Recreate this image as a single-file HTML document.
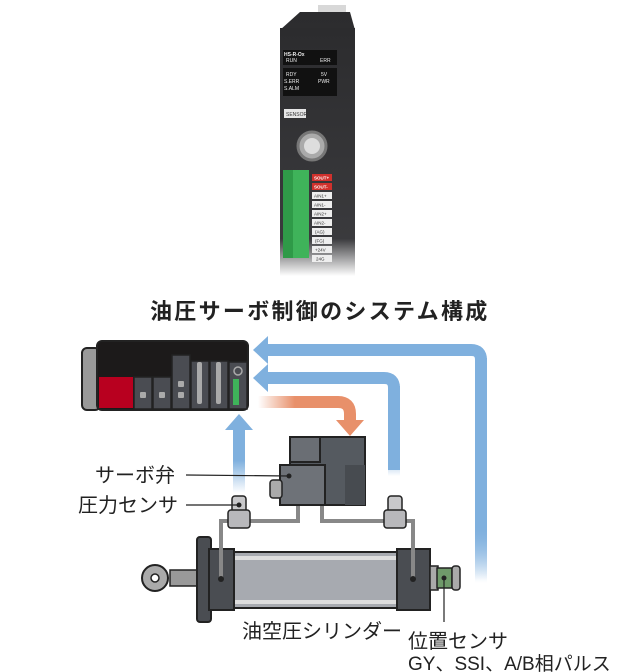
<!DOCTYPE html>
<html><head><meta charset="utf-8"><style>
html,body{margin:0;padding:0;background:#fff;}
svg{display:block}
text{font-family:"Liberation Sans","Noto Sans CJK JP",sans-serif;}
</style></head><body>
<svg width="640" height="672" viewBox="0 0 640 672" xmlns="http://www.w3.org/2000/svg">
<defs>
<linearGradient id="fadeV" x1="0" y1="0" x2="0" y2="1"><stop offset="0" stop-color="#7fb0de"/><stop offset="0.75" stop-color="#7fb0de"/><stop offset="1" stop-color="#7fb0de" stop-opacity="0"/></linearGradient>
<linearGradient id="fadeV2" x1="0" y1="1" x2="0" y2="0"><stop offset="0" stop-color="#7fb0de" stop-opacity="0"/><stop offset="0.5" stop-color="#7fb0de"/><stop offset="1" stop-color="#7fb0de"/></linearGradient>
<linearGradient id="fadeO" x1="0" y1="0" x2="1" y2="0"><stop offset="0" stop-color="#e8906a" stop-opacity="0"/><stop offset="0.4" stop-color="#e8906a"/><stop offset="1" stop-color="#e8906a"/></linearGradient>
<linearGradient id="modg" x1="0" y1="0" x2="0" y2="1"><stop offset="0" stop-color="#2c2c2e"/><stop offset="0.85" stop-color="#3a3a3d"/><stop offset="1" stop-color="#fff"/></linearGradient>
</defs>

<!-- top module -->
<rect x="318" y="5" width="28" height="22" fill="#d8d8d8"/>
<polygon points="280,30 300,12 350,12 355,30 355,270 280,275" fill="url(#modg)"/>
<rect x="280" y="28" width="75" height="248" fill="url(#modg)"/>
<rect x="283" y="50" width="54" height="15" fill="#111"/>
<text x="284" y="56" font-size="5" fill="#eee" font-weight="bold">HS-R-Ox</text>
<text x="286" y="62" font-size="5" fill="#eee">RUN</text><text x="320" y="62" font-size="5" fill="#eee">ERR</text>
<rect x="283" y="68" width="54" height="28" fill="#111"/>
<text x="286" y="76" font-size="5" fill="#eee">RDY</text><text x="321" y="76" font-size="5" fill="#eee">5V</text>
<text x="284" y="83" font-size="5" fill="#eee">S.ERR</text><text x="318" y="83" font-size="5" fill="#eee">PWR</text>
<text x="284" y="90" font-size="5" fill="#eee">S.ALM</text>
<rect x="284" y="109" width="22" height="9" fill="#e6e6e6"/>
<text x="286" y="116" font-size="5" fill="#333">SENSOR</text>
<circle cx="312" cy="146" r="14" fill="#aaa" stroke="#777" stroke-width="3"/>
<circle cx="312" cy="146" r="8" fill="#ddd"/>
<rect x="283" y="170" width="26" height="88" fill="#3fb35a"/>
<rect x="283" y="170" width="10" height="88" fill="#2f9a48"/>
<rect x="312" y="174" width="20" height="7" fill="#d0312d"/><rect x="312" y="183" width="20" height="7" fill="#d0312d"/>
<g fill="#eee"><rect x="312" y="192" width="20" height="7"/><rect x="312" y="201" width="20" height="7"/><rect x="312" y="210" width="20" height="7"/><rect x="312" y="219" width="20" height="7"/><rect x="312" y="228" width="20" height="7"/><rect x="312" y="237" width="20" height="7"/><rect x="312" y="246" width="20" height="7"/><rect x="312" y="255" width="20" height="7"/></g>
<g font-size="4.5" fill="#fff" font-weight="bold"><text x="314" y="179.5">SOUT+</text><text x="314" y="188.5">SOUT-</text></g>
<g font-size="4.5" fill="#333"><text x="314" y="197.5">AIN1+</text><text x="314" y="206.5">AIN1-</text><text x="314" y="215.5">AIN2+</text><text x="314" y="224.5">AIN2-</text><text x="315" y="233.5">(AG)</text><text x="315" y="242.5">(FG)</text><text x="315" y="251.5">+24V</text><text x="316" y="260.5">24G</text></g>

<!-- title -->
<text x="150" y="319" font-size="22" font-weight="bold" fill="#222" letter-spacing="2.3">油圧サーボ制御のシステム構成</text>

<!-- blue arrows -->
<path d="M481,580 V360 Q481,350 471,350 H266" fill="none" stroke="url(#fadeV)" stroke-width="12"/>
<rect x="475" y="358" width="12" height="225" fill="url(#fadeV)"/>
<polygon points="253,350 268,336 268,364" fill="#7fb0de"/>
<path d="M394,470 V388 Q394,378 384,378 H266" fill="none" stroke="#7fb0de" stroke-width="12"/>
<rect x="388" y="386" width="12" height="90" fill="url(#fadeV)"/>
<polygon points="253,378 268,364 268,392" fill="#7fb0de"/>
<rect x="233" y="428" width="12" height="65" fill="url(#fadeV2)"/>
<polygon points="239,414 253,430 225,430" fill="#7fb0de"/>
<!-- orange arrow -->
<path d="M258,402 H338 Q350,402 350,414 V422" fill="none" stroke="url(#fadeO)" stroke-width="12"/>
<polygon points="350,436 336,420 364,420" fill="#e8906a"/>

<!-- PLC -->
<rect x="82" y="348" width="18" height="62" rx="5" fill="#999" stroke="#222" stroke-width="2"/>
<rect x="97" y="341" width="151" height="69" rx="5" fill="#1c1a1a" stroke="#222" stroke-width="2"/>
<rect x="99" y="377" width="34" height="31" fill="#b8001f"/>
<g fill="#4a4c52" stroke="#222" stroke-width="1.5">
<rect x="134" y="377" width="18" height="32"/><rect x="153" y="377" width="18" height="32"/>
<rect x="172" y="355" width="18" height="54"/><rect x="191" y="361" width="18" height="48"/>
<rect x="210" y="361" width="18" height="48"/><rect x="229" y="362" width="18" height="47"/></g>
<g fill="#aaa"><rect x="140" y="392" width="6" height="6" rx="1"/><rect x="159" y="392" width="6" height="6" rx="1"/><rect x="178" y="381" width="6" height="6" rx="1"/><rect x="178" y="392" width="6" height="6" rx="1"/><rect x="197" y="362" width="5" height="42" rx="2"/><rect x="216" y="362" width="5" height="42" rx="2"/></g>
<circle cx="238" cy="371" r="4" fill="none" stroke="#aaa" stroke-width="1.5"/>
<rect x="233" y="379" width="6" height="26" fill="#3fb35a"/>

<!-- pipes -->
<path d="M221,578 V521 H298 V505 M413,578 V521 H322 V505" fill="none" stroke="#888" stroke-width="4"/>
<!-- servo valve -->
<rect x="290" y="437" width="75" height="68" fill="#555a60" stroke="#222" stroke-width="2"/>
<rect x="290" y="437" width="30" height="25" fill="#6a6e74" stroke="#222" stroke-width="2"/>
<rect x="280" y="465" width="45" height="40" fill="#6e7278" stroke="#222" stroke-width="2"/>
<rect x="270" y="480" width="12" height="18" rx="3" fill="#aaa" stroke="#222" stroke-width="1.5"/>
<rect x="345" y="465" width="20" height="40" fill="#474b50"/>
<circle cx="289" cy="476" r="2.5" fill="#222"/>
<!-- pressure sensors -->
<rect x="232" y="496" width="14" height="18" rx="3" fill="#c8c8ca" stroke="#222" stroke-width="1.5"/>
<rect x="228" y="510" width="22" height="18" rx="3" fill="#b8b8bb" stroke="#222" stroke-width="1.5"/>
<circle cx="239" cy="505" r="2.5" fill="#222"/>
<rect x="388" y="496" width="14" height="18" rx="3" fill="#c8c8ca" stroke="#222" stroke-width="1.5"/>
<rect x="384" y="510" width="22" height="18" rx="3" fill="#b8b8bb" stroke="#222" stroke-width="1.5"/>

<!-- cylinder -->
<rect x="170" y="570" width="32" height="16" fill="#999" stroke="#222" stroke-width="1.5"/>
<circle cx="155" cy="578" r="13" fill="#aaa" stroke="#222" stroke-width="2"/>
<circle cx="155" cy="578" r="4" fill="#fff" stroke="#222" stroke-width="1.5"/>
<rect x="197" y="537" width="14" height="85" rx="3" fill="#4a4d52" stroke="#222" stroke-width="2"/>
<rect x="230" y="552" width="170" height="56" fill="#a7aab0" stroke="#222" stroke-width="2"/>
<rect x="230" y="556" width="170" height="4" fill="#ddd"/><rect x="230" y="600" width="170" height="4" fill="#ddd"/>
<rect x="209" y="549" width="25" height="61" fill="#4a4d52" stroke="#222" stroke-width="2"/>
<rect x="397" y="549" width="33" height="61" fill="#4a4d52" stroke="#222" stroke-width="2"/>
<path d="M221,521 V578 M413,521 V578" stroke="#888" stroke-width="4"/>
<circle cx="221" cy="579" r="3" fill="#222"/><circle cx="413" cy="579" r="3" fill="#222"/>
<rect x="430" y="566" width="8" height="24" fill="#aaa" stroke="#222" stroke-width="1.5"/>
<rect x="437" y="568" width="15" height="20" fill="#6f9a6a" stroke="#222" stroke-width="1.5"/>
<rect x="452" y="566" width="8" height="24" rx="3" fill="#aaa" stroke="#222" stroke-width="1.5"/>
<circle cx="444" cy="578" r="2.5" fill="#222"/>

<!-- leader lines -->
<line x1="186" y1="475" x2="289" y2="476" stroke="#222" stroke-width="1.2"/>
<line x1="186" y1="505" x2="239" y2="505" stroke="#222" stroke-width="1.2"/>
<line x1="444" y1="578" x2="444" y2="622" stroke="#222" stroke-width="1.2"/>

<g font-size="20" fill="#222">
<text x="95" y="482">サーボ弁</text>
<text x="78" y="512">圧力センサ</text>
<text x="242" y="638">油空圧シリンダー</text>
<text x="408" y="648">位置センサ</text>
<text x="408" y="670" font-size="19">GY、SSI、A/B相パルス</text>
</g>
</svg>
</body></html>
